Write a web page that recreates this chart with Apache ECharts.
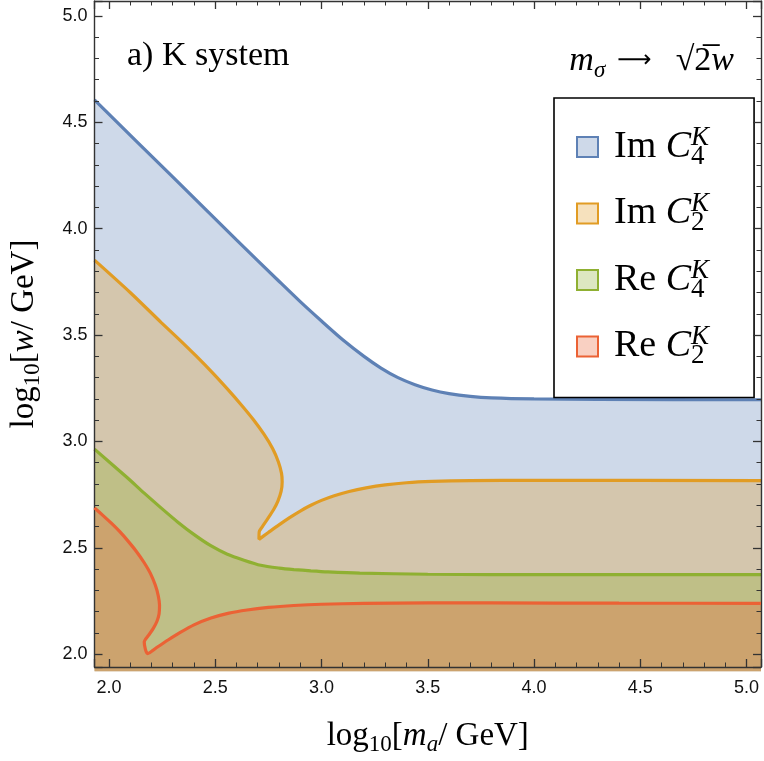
<!DOCTYPE html>
<html><head><meta charset="utf-8">
<script src="https://cdn.jsdelivr.net/npm/echarts@6/dist/echarts.min.js"></script>
<style>html,body{margin:0;padding:0;background:#fff}#c{width:764px;height:761px}</style>
</head><body><div id="c"></div>
<script>
// ---- data ----
const seriesNames = ['ImC4', 'ImC2', 'ReC4', 'ReC2'];
const xRange = [1.932, 5.068];
const yRange = [1.94, 5.07];

const imC4X = [1.932, 2.3, 2.6, 2.8, 2.9, 3.0, 3.1, 3.2, 3.28, 3.36, 3.44, 3.52, 3.6, 3.7, 3.8, 4.0, 4.3, 5.068];
const imC4Y = [4.605, 4.243, 3.947, 3.753, 3.657, 3.566, 3.478, 3.400, 3.345, 3.300, 3.267, 3.242, 3.225, 3.212, 3.205, 3.200, 3.198, 3.196];

const imC2X = [1.932, 2.1, 2.245, 2.33, 2.41, 2.49, 2.557, 2.62, 2.68, 2.73, 2.77, 2.797, 2.812, 2.815, 2.810, 2.795, 2.775, 2.748, 2.722, 2.707, 2.706,
               2.75, 2.80, 2.85, 2.90, 2.95, 3.00, 3.06, 3.13, 3.21, 3.30, 3.40, 3.52, 3.70, 4.0, 5.068];
const imC2Y = [3.852, 3.700, 3.560, 3.480, 3.402, 3.320, 3.247, 3.175, 3.102, 3.033, 2.967, 2.905, 2.850, 2.810, 2.765, 2.720, 2.680, 2.638, 2.600, 2.575, 2.540,
               2.572, 2.608, 2.642, 2.673, 2.700, 2.723, 2.745, 2.765, 2.782, 2.796, 2.806, 2.812, 2.816, 2.817, 2.816];

const reC4X = [1.932, 2.088, 2.166, 2.245, 2.323, 2.401, 2.479, 2.557, 2.635, 2.714, 2.80, 2.87, 2.95, 3.03, 3.18, 3.5, 3.8, 5.068];
const reC4Y = [2.964, 2.828, 2.757, 2.688, 2.622, 2.562, 2.510, 2.470, 2.442, 2.418, 2.405, 2.398, 2.392, 2.387, 2.381, 2.376, 2.374, 2.374];

const reC2X = [1.932, 1.97, 2.010, 2.05, 2.088, 2.13, 2.166, 2.195, 2.218, 2.232, 2.238, 2.236, 2.226, 2.208, 2.185, 2.166, 2.182,
               2.23, 2.28, 2.33, 2.40, 2.48, 2.56, 2.65, 2.75, 2.87, 3.0, 3.2, 3.5, 3.8, 4.4, 5.068];
const reC2Y = [2.688, 2.654, 2.617, 2.577, 2.534, 2.482, 2.430, 2.380, 2.325, 2.275, 2.230, 2.190, 2.155, 2.120, 2.087, 2.057, 2.003,
               2.035, 2.068, 2.099, 2.138, 2.170, 2.192, 2.208, 2.220, 2.229, 2.235, 2.239, 2.241, 2.241, 2.240, 2.239];

// ---- styles ----
const lineColors = ['#5E81B5', '#E19C24', '#8FB032', '#EB6235'];
const swatchColors = ['rgba(94,129,181,0.3)', 'rgba(225,156,36,0.3)', 'rgba(143,176,50,0.3)', 'rgba(235,98,53,0.3)'];
const legendLabels = {
  ImC4: '{t|Im }{c|C}{b|4}{p|K}',
  ImC2: '{t|Im }{c|C}{b|2}{p|K}',
  ReC4: '{t|Re }{c|C}{b|4}{p|K}',
  ReC2: '{t|Re }{c|C}{b|2}{p|K}'
};
const SERIF = 'Liberation Serif';
const SANS = 'Liberation Sans';

const zip = (xs, ys) => xs.map((x, i) => [x, ys[i]]);
const allX = [imC4X, imC2X, reC4X, reC2X];
const allY = [imC4Y, imC2Y, reC4Y, reC2Y];

const chart = echarts.init(document.getElementById('c'), null, {renderer: 'canvas'});

const axisCommon = {
  type: 'value',
  splitNumber: 6,
  z: 5,
  axisLine: {show: true, onZero: false, lineStyle: {color: '#333', width: 1.4}},
  axisTick: {show: true, inside: true, length: 8, lineStyle: {color: '#333', width: 1.3}},
  minorTick: {show: true, splitNumber: 5, length: 4.5, lineStyle: {color: '#333', width: 1}},
  splitLine: {show: false},
  minorSplitLine: {show: false}
};
const labelCommon = {
  fontFamily: SANS, fontSize: 18, color: '#111',
  showMinLabel: false, showMaxLabel: false,
  formatter: v => v.toFixed(1)
};
const nameRich = {
  n: {fontFamily: SERIF, fontSize: 33, lineHeight: 40, color: '#000'},
  s: {fontFamily: SERIF, fontSize: 23, lineHeight: 18, verticalAlign: 'bottom', color: '#000'},
  i: {fontFamily: SERIF, fontSize: 33, fontStyle: 'italic', lineHeight: 40, color: '#000'},
  u: {fontFamily: SERIF, fontSize: 23, fontStyle: 'italic', lineHeight: 18, verticalAlign: 'bottom', color: '#000'}
};

const option = {
  animation: false,
  backgroundColor: '#fff',
  grid: {left: 92, right: 3, top: 1, bottom: 93, containLabel: false},
  title: [
    {text: 'a) K system', left: 127, top: 39, padding: 0,
     textStyle: {fontFamily: SERIF, fontWeight: 'normal', fontSize: 34, color: '#000'}},
    {text: '{i|m}{s|σ}{a|\u2002⟶\u2003}{n|√}{n|2\u0305}{i|w}', right: 30, top: 40, padding: 0,
     textStyle: {fontFamily: SERIF, fontWeight: 'normal', fontSize: 34, color: '#000',
       rich: {
         i: {fontFamily: SERIF, fontSize: 34, fontStyle: 'italic', lineHeight: 42, color: '#000'},
         n: {fontFamily: SERIF, fontSize: 34, lineHeight: 42, color: '#000'},
         a: {fontFamily: 'DejaVu Sans', fontSize: 24, lineHeight: 42, color: '#000'},
         s: {fontFamily: SERIF, fontSize: 23, fontStyle: 'italic', lineHeight: 19, verticalAlign: 'bottom', color: '#000'}
       }}}
  ],
  legend: {
    orient: 'vertical', left: 554, top: 98,
    padding: [26, 45, 28, 22], itemGap: 20.5, itemWidth: 21, itemHeight: 20,
    backgroundColor: '#fff', borderColor: '#000', borderWidth: 1.6, borderRadius: 0,
    selectedMode: false,
    data: seriesNames.map((n, i) => ({name: n, icon: 'rect',
      itemStyle: {color: swatchColors[i], borderColor: lineColors[i], borderWidth: 2}})),
    formatter: n => legendLabels[n],
    textStyle: {
      fontFamily: SERIF, fontSize: 38, color: '#000',
      rich: {
        t: {fontFamily: SERIF, fontSize: 38, lineHeight: 46, padding: [0, 0, 0, 11], color: '#000'},
        c: {fontFamily: SERIF, fontSize: 38, fontStyle: 'italic', lineHeight: 46, color: '#000'},
        b: {fontFamily: SERIF, fontSize: 27, lineHeight: 25, verticalAlign: 'bottom', width: 0, color: '#000'},
        p: {fontFamily: SERIF, fontSize: 27, fontStyle: 'italic', lineHeight: 28, verticalAlign: 'top', color: '#000'}
      }
    }
  },
  xAxis: [
    Object.assign({}, axisCommon, {
      min: xRange[0], max: xRange[1], position: 'bottom',
      axisLabel: Object.assign({}, labelCommon, {margin: 12}),
      name: '{n|log}{s|10}{n|[}{i|m}{u|a}{n|/ GeV]}',
      nameLocation: 'middle', nameGap: 49,
      nameTextStyle: {rich: nameRich}
    }),
    Object.assign({}, axisCommon, {
      min: xRange[0], max: xRange[1], position: 'top', axisLabel: {show: false}
    })
  ],
  yAxis: [
    Object.assign({}, axisCommon, {
      min: yRange[0], max: yRange[1], position: 'left',
      axisLabel: Object.assign({}, labelCommon, {margin: 7}),
      name: '{n|log}{s|10}{n|[}{i|w}{n|/ GeV]}',
      nameLocation: 'middle', nameGap: 50, nameRotate: 90,
      nameTextStyle: {rich: nameRich}
    }),
    Object.assign({}, axisCommon, {
      min: yRange[0], max: yRange[1], position: 'right', axisLabel: {show: false}
    })
  ],
  series: seriesNames.map((n, i) => ({
    type: 'line', name: n, xAxisIndex: 0, yAxisIndex: 0,
    data: zip(allX[i], allY[i]),
    symbol: 'none', showSymbol: false, smooth: 0.25, clip: false,
    z: 2 + i,
    lineStyle: {color: lineColors[i], width: 3.2},
    itemStyle: {color: lineColors[i]},
    areaStyle: {color: lineColors[i], opacity: 0.3, origin: 1.92}
  }))
};
chart.setOption(option);
</script>
</body></html>
